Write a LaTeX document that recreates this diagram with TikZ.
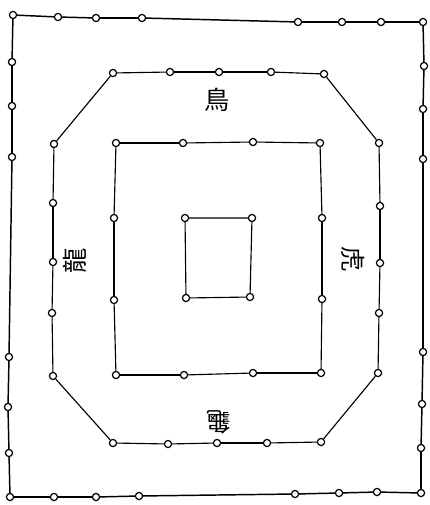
\documentclass[tikz,border=0pt]{standalone}
\usepackage{fontspec}
\usepackage{tikz}
\newfontfamily\cjk{Noto Sans CJK TC}
\tikzset{
  ring/.style={circle, draw=black, fill=white, line width=0.9pt,
    inner sep=0pt, minimum size=5.4pt},
  frameline/.style={line width=1.1pt, color=black},
  wall/.style={line width=0.85pt, color=black},
  beast/.style={font=\cjk\fontsize{19}{19}\selectfont, inner sep=0pt},
}

\begin{document}
\begin{tikzpicture}[x=0.75pt, y=-0.75pt]
  \useasboundingbox (0,0) rectangle (429,505);

  % outer frame
  \foreach [count=\i] \p in {(13,15),(58,17),(96,18),(142,18),(298,22),(342,22),(381,22),(423,22),
      (424,66),(423,109),(423,159),(423,352),(422,404),(421,448),(421,493),
      (377,492),(339,493),(295,494),(139,496),(96,497),(54,497),(10,497),
      (9,453),(8,407),(9,357),(12,157),(12,106),(12,62)}
    \node[ring] (o\i) at \p {};
  \foreach \i [remember=\i as \j (initially 28)] in {1,...,28}
    \draw[frameline] (o\j) -- (o\i);

  % octagon
  \foreach [count=\i] \p in {(113,73),(170,72),(219,72),(271,72),(324,74),
      (379,143),(380,206),(380,263),(379,313),(378,373),
      (321,442),(267,443),(217,443),(168,444),(113,443),
      (53,376),(52,313),(53,262),(53,203),(54,144)}
    \node[ring] (g\i) at \p {};
  \foreach \i [remember=\i as \j (initially 20)] in {1,...,20}
    \draw[wall] (g\j) -- (g\i);

  % middle square
  \foreach [count=\i] \p in {(116,143),(183,143),(253,142),(320,143),
      (322,218),(322,299),(321,373),(253,373),(184,375),(116,375),
      (114,300),(114,218)}
    \node[ring] (m\i) at \p {};
  \foreach \i [remember=\i as \j (initially 12)] in {1,...,12}
    \draw[wall] (m\j) -- (m\i);

  % inner square
  \node[ring] (c1) at (185,218) {};
  \node[ring] (c2) at (252,218) {};
  \node[ring] (c3) at (250,297) {};
  \node[ring] (c4) at (186,298) {};
  \draw[wall] (c1) -- (c2) -- (c3) -- (c4) -- (c1);

  % the four beasts
  \node[beast] (bird)     at (217,100) {鳥};
  \node[beast, rotate=90]  (dragon)   at (75,261)  {龍};
  \node[beast, rotate=-90] (tiger)    at (353,259) {虎};
  \node[beast, rotate=180] (tortoise) at (219,422) {龜};
\end{tikzpicture}
\end{document}
